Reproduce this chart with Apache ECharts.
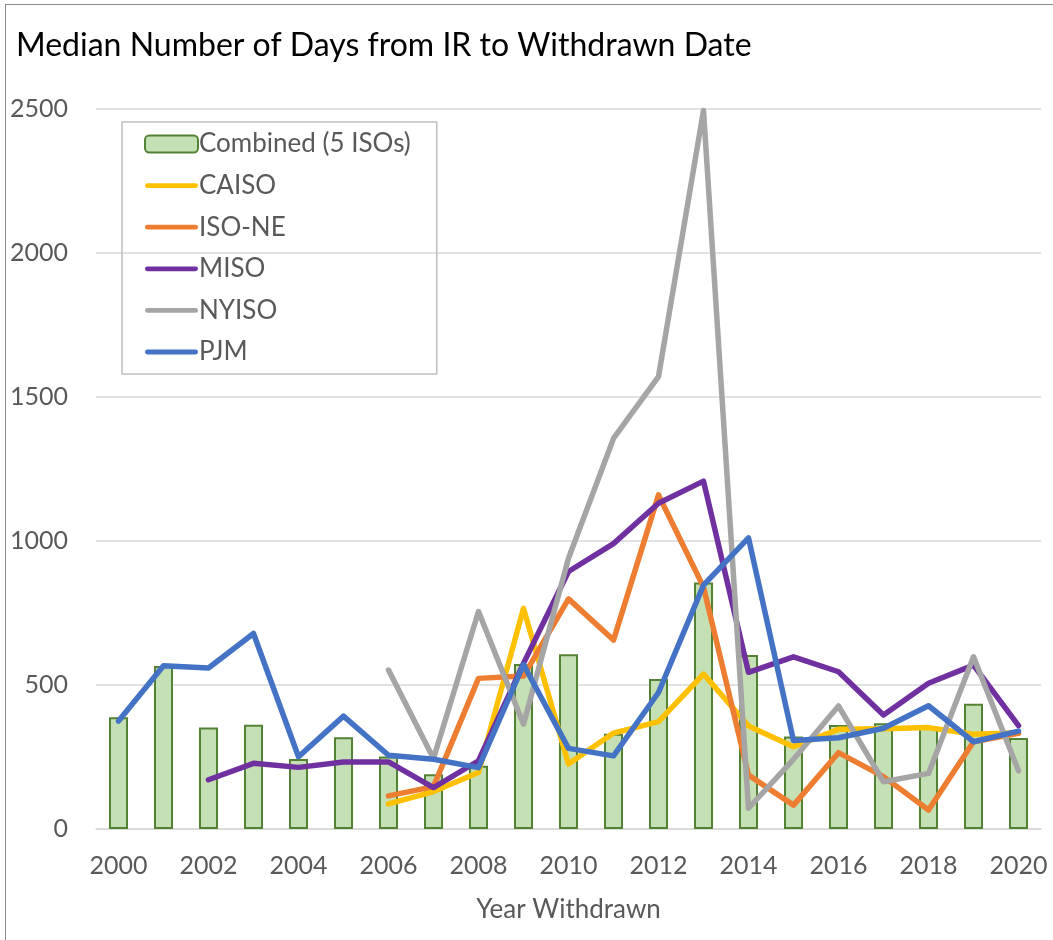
<!DOCTYPE html>
<html>
<head>
<meta charset="utf-8">
<script src="https://cdn.jsdelivr.net/npm/echarts@6/dist/echarts.min.js"></script>
<style>
  html, body { margin: 0; padding: 0; background: #fff; }
  #chart { width: 1053px; height: 940px; }
  .frame { position: absolute; left: 5px; top: 4px; width: 1100px; height: 1000px; border: 1px solid #8c8c8c; box-sizing: border-box; pointer-events: none; }
</style>
</head>
<body>
<div id="chart"></div>
<div class="frame"></div>
<script>
// years on x axis
var years = ['2000','2001','2002','2003','2004','2005','2006','2007','2008','2009','2010',
             '2011','2012','2013','2014','2015','2016','2017','2018','2019','2020'];
// median days
var combined = [388, 566, 352, 362, 243, 319, 252, 190, 220, 573, 607, 331, 521, 856, 604, 321, 361, 367, 355, 435, 316];
var caiso = [null, null, null, null, null, null, 87, 130, 196, 766, 226, 333, 373, 538, 358, 286, 346, 348, 352, 329, 334];
var isone = [null, null, null, null, null, null, 115, 147, 523, 531, 799, 656, 1160, 840, 187, 83, 265, 182, 66, 303, 332];
var miso = [null, null, 171, 228, 214, 233, 233, 144, 237, 575, 894, 991, 1131, 1208, 544, 598, 546, 396, 506, 569, 359];
var nyiso = [null, null, null, null, null, null, 552, 245, 755, 364, 940, 1356, 1571, 2495, 72, 242, 427, 164, 193, 598, 202];
var pjm = [375, 567, 559, 679, 251, 392, 256, 242, 213, 571, 280, 254, 474, 847, 1011, 307, 317, 350, 428, 303, 340];
var yTicks = [0, 500, 1000, 1500, 2000, 2500];

var font = 'Lato';
var grey = '#595959';
// thin bar used as legend icon for the lines
var lineIcon = 'path://M2.5 0H103.5A2.5 2.5 0 0 1 103.5 10H2.5A2.5 2.5 0 0 1 2.5 0Z';

var chart = echarts.init(document.getElementById('chart'));

function lineSeries(name, data, color) {
    return {
        name: name,
        type: 'line',
        data: data,
        symbol: 'none',
        showSymbol: false,
        connectNulls: false,
        lineStyle: { color: color, width: 5.5, cap: 'round', join: 'round' },
        itemStyle: { color: color },
        emphasis: { disabled: true }
    };
}

var option = {
    backgroundColor: '#fff',
    animation: false,
    title: {
        text: 'Median Number of Days from IR to Withdrawn Date',
        left: 16,
        top: 30,
        padding: 0,
        textStyle: { fontFamily: font, fontSize: 32, fontWeight: 'normal', color: '#000' }
    },
    legend: {
        orient: 'vertical',
        left: 122,
        top: 122,
        padding: [9, 26, 9, 22],
        itemGap: 15.6,
        itemWidth: 53,
        itemHeight: 17,
        borderColor: '#BFBFBF',
        borderWidth: 1.5,
        textStyle: { fontFamily: font, fontSize: 26, color: grey, padding: [0, 0, 0, -4] },
        data: [
            { name: 'Combined (5 ISOs)' },
            { name: 'CAISO', icon: lineIcon },
            { name: 'ISO-NE', icon: lineIcon },
            { name: 'MISO', icon: lineIcon },
            { name: 'NYISO', icon: lineIcon },
            { name: 'PJM', icon: lineIcon }
        ]
    },
    grid: { left: 96, right: 12, top: 109, bottom: 111 },
    xAxis: {
        type: 'category',
        data: years,
        name: 'Year Withdrawn',
        nameLocation: 'middle',
        nameGap: 68,
        nameTextStyle: { fontFamily: font, fontSize: 26, color: grey },
        axisTick: { show: false },
        axisLine: { lineStyle: { color: '#D9D9D9', width: 1.5 } },
        axisLabel: { interval: 1, margin: 24, fontFamily: font, fontSize: 25, color: grey }
    },
    yAxis: {
        type: 'value',
        min: yTicks[0],
        max: yTicks[yTicks.length - 1],
        interval: 500,
        axisLine: { show: false },
        axisTick: { show: false },
        splitLine: { lineStyle: { color: '#D9D9D9', width: 1.5 } },
        axisLabel: {
            margin: 28, fontFamily: font, fontSize: 25, color: grey,
            formatter: function (v) { return String(v); }
        }
    },
    series: [
        {
            name: 'Combined (5 ISOs)',
            type: 'bar',
            data: combined,
            barWidth: 19,
            itemStyle: { color: '#C5E0B4', borderColor: '#548235', borderWidth: 2 },
            emphasis: { disabled: true }
        },
        lineSeries('CAISO', caiso, '#FFC000'),
        lineSeries('ISO-NE', isone, '#ED7D31'),
        lineSeries('MISO', miso, '#7030A0'),
        lineSeries('NYISO', nyiso, '#A5A5A5'),
        lineSeries('PJM', pjm, '#4472C4')
    ]
};

chart.setOption(option);
</script>
</body>
</html>
